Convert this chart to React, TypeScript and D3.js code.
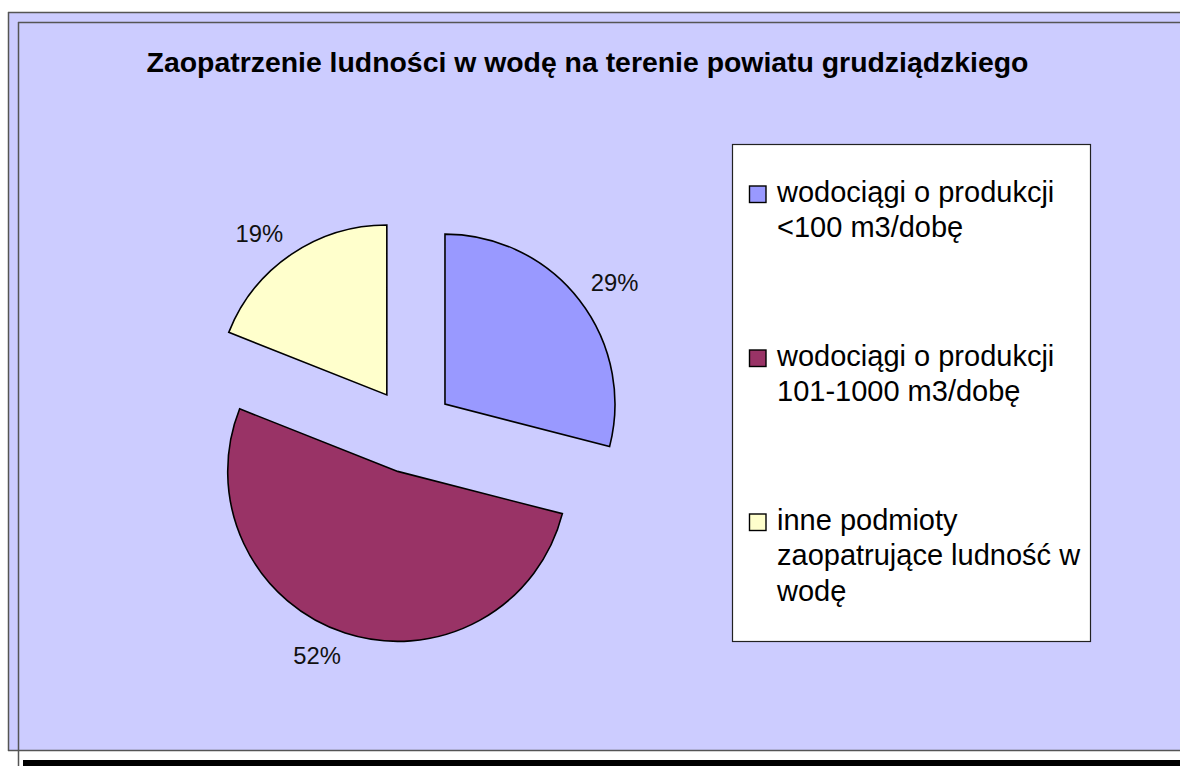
import React from "react";
import * as d3 from "d3";

const title = "Zaopatrzenie ludności w wodę na terenie powiatu grudziądzkiego";
const categories = [
  ["wodociągi o produkcji", "<100 m3/dobę"],
  ["wodociągi o produkcji", "101-1000 m3/dobę"],
  ["inne podmioty", "zaopatrujące ludność w", "wodę"],
];
const values = [29, 52, 19];
const colors = ["#9999FF", "#993366", "#FFFFCC"];

const W = 1180;
const H = 766;
const CX = 411;
const CY = 430.5;
const R = 170;
const EXPLODE = 43;
const LABEL_GAP = 15;
const LABEL_HALF_W = 23.5;
const LABEL_HALF_H = 8.5;

export default function App() {
  const pie = d3.pie<number>().sort(null).value((d) => d)(values);
  const arc = d3.arc<d3.PieArcDatum<number>>().innerRadius(0).outerRadius(R);
  const total = d3.sum(values);
  const font = "'Liberation Sans', Arial, Helvetica, sans-serif";

  return (
    <svg
      width={W}
      height={H}
      style={{ position: "fixed", left: 0, top: 0, display: "block" }}
      fontFamily={font}
    >
      <rect x={0} y={0} width={W} height={H} fill="#ffffff" />
      <rect x={8} y={12} width={W} height={738} fill="#CCCCFF" />
      {/* outer frame */}
      <line x1={8} y1={12.5} x2={W} y2={12.5} stroke="#555" strokeWidth={1.5} />
      <line x1={8.5} y1={12} x2={8.5} y2={751} stroke="#555" strokeWidth={1.5} />
      <line x1={8} y1={750.5} x2={W} y2={750.5} stroke="#555" strokeWidth={1.5} />
      {/* inner frame */}
      <line x1={18} y1={22.5} x2={W} y2={22.5} stroke="#555" strokeWidth={1.5} />
      <line x1={18.5} y1={22} x2={18.5} y2={H} stroke="#555" strokeWidth={1.5} />
      {/* black bar */}
      <rect x={23} y={760} width={W - 23} height={6} fill="#000" />

      <text
        x={587.5}
        y={72}
        textAnchor="middle"
        fontWeight="bold"
        fontSize={28.4}
        fill="#000"
      >
        {title}
      </text>

      {pie.map((p, i) => {
        const mid = (p.startAngle + p.endAngle) / 2;
        const sx = Math.sin(mid);
        const sy = -Math.cos(mid);
        const ox = CX + EXPLODE * sx;
        const oy = CY + EXPLODE * sy;
        const lx = ox + (R + LABEL_GAP) * sx + Math.sign(sx) * LABEL_HALF_W;
        const ly = oy + (R + LABEL_GAP) * sy + Math.sign(sy) * LABEL_HALF_H;
        return (
          <g key={i}>
            <path
              d={arc(p) || ""}
              transform={`translate(${ox},${oy})`}
              fill={colors[i]}
              stroke="#000"
              strokeWidth={1.6}
              strokeLinejoin="miter"
            />
            <text
              x={lx}
              y={ly + LABEL_HALF_H}
              textAnchor="middle"
              fontSize={23.8}
              fill="#111"
            >
              {`${Math.round((p.data / total) * 100)}%`}
            </text>
          </g>
        );
      })}

      {/* legend */}
      <rect x={732.5} y={144.5} width={358} height={497} fill="#fff" stroke="#222" strokeWidth={1.2} />
      {categories.map((lines, i) => {
        const base = 201.5 + i * 164;
        return (
          <g key={i}>
            <rect
              x={749.5}
              y={base - 15.5}
              width={16.5}
              height={16.5}
              fill={colors[i]}
              stroke="#000"
              strokeWidth={1.4}
            />
            {lines.map((t, j) => (
              <text key={j} x={777} y={base + j * 35.5} fontSize={29} fill="#000">
                {t}
              </text>
            ))}
          </g>
        );
      })}
    </svg>
  );
}
